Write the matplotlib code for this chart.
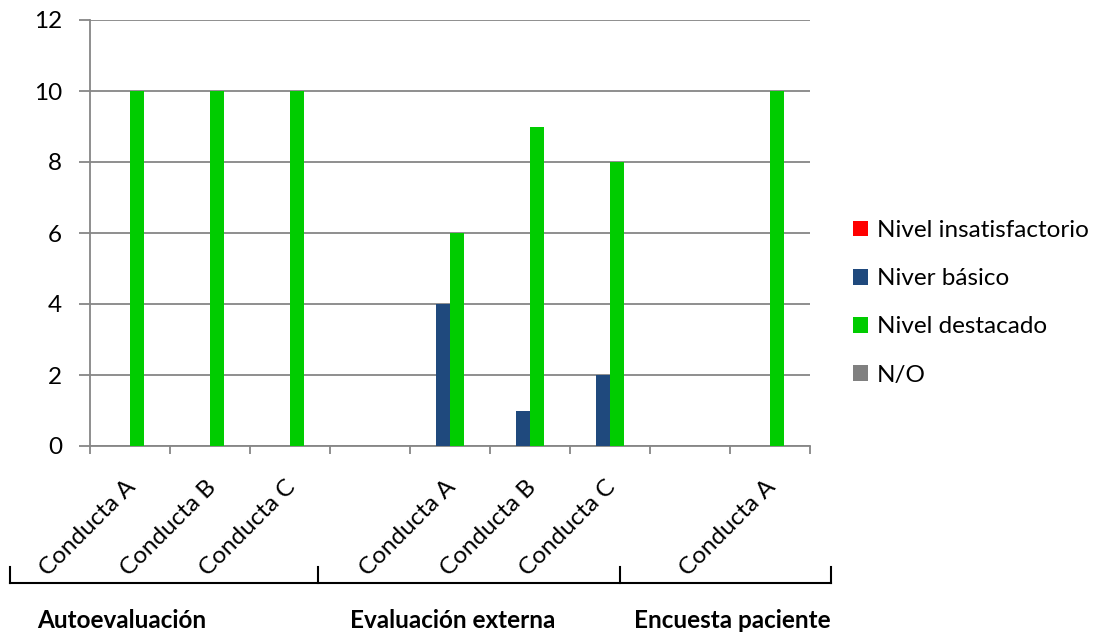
import numpy as np
import matplotlib.pyplot as plt
import matplotlib.transforms as mtransforms
from matplotlib.lines import Line2D

plt.rcParams['font.family'] = ['Lato', 'DejaVu Sans']

categories = ["Conducta A", "Conducta B", "Conducta C", "",
              "Conducta A", "Conducta B", "Conducta C", "",
              "Conducta A"]
series_names = ["Nivel insatisfactorio", "Niver básico", "Nivel destacado", "N/O"]
insatisfactorio = [0, 0, 0, 0, 0, 0, 0, 0, 0]
basico = [0, 0, 0, 0, 4, 1, 2, 0, 0]
destacado = [10, 10, 10, 0, 6, 9, 8, 0, 10]
no_observado = [0, 0, 0, 0, 0, 0, 0, 0, 0]
groups = ["Autoevaluación", "Evaluación externa", "Encuesta paciente"]

colors = ["#ff0000", "#1f497d", "#00cc00", "#808080"]
grid_color = "#868686"
fs = 17.5

W, H = 1094, 637
fig = plt.figure(figsize=(W / 100, H / 100), dpi=100)
ax = fig.add_axes([90 / W, 1 - 446 / H, 720 / W, 426 / H])

x = np.arange(len(categories))
width = 0.18
for i, (vals, name, col) in enumerate(zip(
        [insatisfactorio, basico, destacado, no_observado], series_names, colors)):
    ax.bar(x + (i - 1.5) * width, vals, width, color=col, label=name, zorder=3)

ax.set_xlim(-0.5, len(categories) - 0.5)
ax.set_ylim(0, 12)
ax.set_yticks(range(0, 13, 2))
ax.yaxis.grid(True, color=grid_color, lw=1.3, zorder=0)
ax.tick_params(axis='y', length=8, width=1.3, color=grid_color, pad=12, labelsize=fs)

# category labels at centres, tick marks at boundaries
ax.set_xticks(x)
ax.set_xticklabels(categories, rotation=45, ha='right', va='top',
                   rotation_mode='anchor', fontsize=fs)
ax.tick_params(axis='x', which='major', length=0, pad=22)
shift = mtransforms.ScaledTranslation(-5 / 100, 0, fig.dpi_scale_trans)
for lab in ax.get_xticklabels():
    lab.set_transform(lab.get_transform() + shift)
ax.set_xticks(np.arange(-0.5, len(categories)), minor=True)
ax.tick_params(axis='x', which='minor', length=6, width=1.3, color=grid_color)

for s in ['top', 'right']:
    ax.spines[s].set_visible(False)
for s in ['left', 'bottom']:
    ax.spines[s].set_color(grid_color)
    ax.spines[s].set_linewidth(1.3)

ax.legend(loc='upper left', bbox_to_anchor=(853 / W, 1 - 220 / H),
          bbox_transform=fig.transFigure, frameon=False, fontsize=fs,
          handlelength=0.62, handleheight=0.62, handletextpad=0.35,
          labelspacing=1.12, borderaxespad=0, borderpad=0)

# group brackets below the rotated labels
y_line = 1 - 583 / H
y_top = 1 - 567 / H
fig.add_artist(Line2D([10 / W, 831 / W], [y_line, y_line], color='black', lw=1.5))
for xb in [10, 318, 620, 831]:
    fig.add_artist(Line2D([xb / W, xb / W], [y_line, y_top], color='black', lw=1.5))
for gx, name in zip([122, 453, 732], groups):
    fig.text(gx / W, 1 - 620 / H, name, ha='center', va='center',
             fontsize=fs, fontweight='bold')

fig.savefig("out.png", dpi=100)
